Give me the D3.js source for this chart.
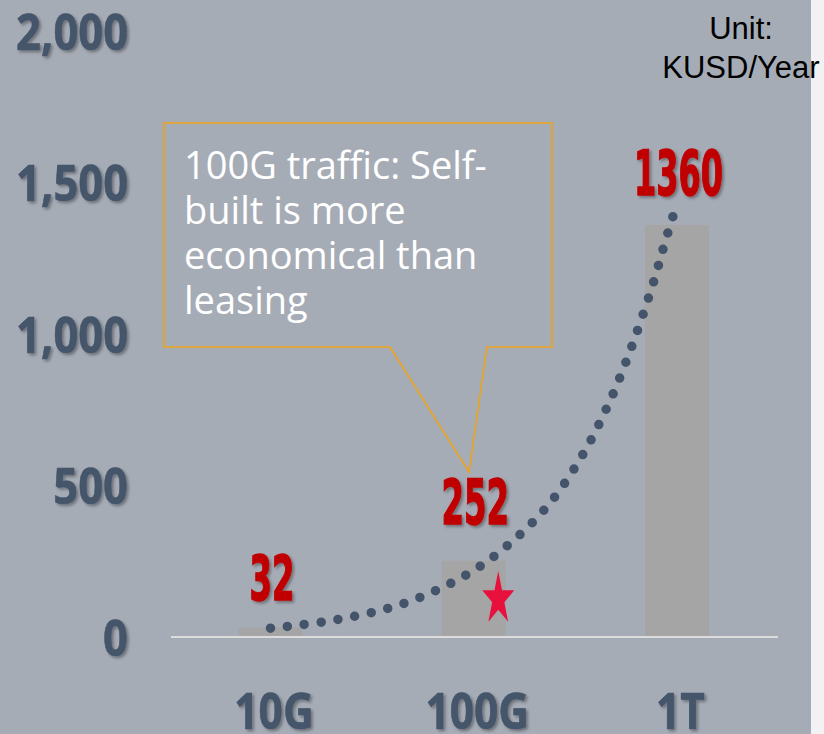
<!DOCTYPE html>
<html><head><meta charset="utf-8">
<script src="https://cdn.jsdelivr.net/npm/d3@7/dist/d3.min.js"></script>
<style>html,body{margin:0;padding:0;background:#a6acb6;overflow:hidden}</style>
</head><body><svg id="c" width="824" height="734"></svg>
<script>
// ---- data ----
const categories = ["10G", "100G", "1T"];
const costValues = [32, 252, 1360];
const yTicks = [0, 500, 1000, 1500, 2000];
// trend curve: position along category axis, value
const trendPos = [0, 0.333, 0.662, 0.968, 1.173, 1.366, 1.533, 1.67, 1.783, 1.883, 1.942, 2.004];
const trendVal = [29, 58, 112, 207, 306, 435, 598, 779, 969, 1168, 1305, 1440];
const unitLines = ["Unit:", "KUSD/Year"];
const calloutLines = ["100G traffic: Self-", "built is more", "economical than", "leasing"];

// ---- setup ----
const W = 824, H = 734;
const svg = d3.select("#c");
const defs = svg.append("defs");
const sh = defs.append("filter").attr("id", "sh").attr("x", "-20%").attr("y", "-20%").attr("width", "150%").attr("height", "150%");
sh.append("feDropShadow").attr("dx", 2).attr("dy", 2).attr("stdDeviation", 1.5)
  .attr("flood-color", "#000").attr("flood-opacity", 0.35);

svg.append("rect").attr("width", W).attr("height", H).attr("fill", "#a6acb6");
svg.append("rect").attr("x", 811).attr("width", W - 811).attr("height", H).attr("fill", "#f2f2f4");

const x = d3.scalePoint().domain(categories).range([270.5, 677]);
const xPos = d3.scaleLinear().domain([0, categories.length - 1]).range([270.5, 677]);
const y = d3.scaleLinear().domain([0, 2000]).range([637, 31]);
const barW = 64;

// bars
svg.append("g").selectAll("rect").data(costValues).join("rect")
  .attr("x", (d, i) => x(categories[i]) - barW / 2)
  .attr("y", d => y(d))
  .attr("width", barW)
  .attr("height", d => y(0) - y(d))
  .attr("fill", "#a5a5a5");

// baseline
svg.append("line").attr("x1", 171).attr("x2", 778).attr("y1", y(0)).attr("y2", y(0))
  .attr("stroke", "#dcdcdc").attr("stroke-width", 2);

// y axis
const yAxis = d3.axisLeft(y).tickValues(yTicks).tickFormat(d3.format(",")).tickSize(0).tickPadding(0);
const gy = svg.append("g").attr("transform", "translate(128,0)").call(yAxis);
gy.select(".domain").remove();
gy.selectAll("text")
  .attr("font-family", "'Open Sans', 'DejaVu Sans', sans-serif")
  .attr("font-weight", "bold").attr("font-size", 50).attr("fill", "#44546a")
  .attr("stroke", "#44546a").attr("stroke-width", 0.6)
  .attr("dy", "0.36em").attr("filter", "url(#sh)")
  .each(function () { const L = this.getComputedTextLength(); d3.select(this).attr("textLength", L * 0.87).attr("lengthAdjust", "spacingAndGlyphs"); });

// x axis
const xAxis = d3.axisBottom(x).tickSize(0).tickPadding(0);
const gx = svg.append("g").attr("transform", "translate(3,0)").call(xAxis);
gx.select(".domain").remove();
gx.selectAll("text")
  .attr("y", 729).attr("dy", 0)
  .attr("font-family", "'Open Sans', 'DejaVu Sans', sans-serif")
  .attr("font-weight", "bold").attr("font-size", 50).attr("fill", "#44546a")
  .attr("stroke", "#44546a").attr("stroke-width", 0.6)
  .attr("filter", "url(#sh)")
  .each(function () { const L = this.getComputedTextLength(); d3.select(this).attr("textLength", L * 0.85).attr("lengthAdjust", "spacingAndGlyphs"); });

// trend dotted curve
const line = d3.line().x((d, i) => xPos(trendPos[i])).y(d => y(d)).curve(d3.curveCatmullRom);
svg.append("path").attr("d", line(trendVal))
  .attr("fill", "none").attr("stroke", "#44546a").attr("stroke-width", 9.5)
  .attr("stroke-linecap", "round").attr("stroke-dasharray", "0 17");

// value labels
const labelLift = [27, 37, 30];
svg.append("g").selectAll("text").data(costValues).join("text")
  .attr("x", (d, i) => x(categories[i]) + 1.5)
  .attr("y", (d, i) => y(d) - labelLift[i])
  .attr("text-anchor", "middle")
  .attr("font-family", "'Liberation Sans Narrow', 'DejaVu Sans Condensed', 'Arial Narrow', sans-serif")
  .attr("font-weight", "bold").attr("font-size", 62).attr("fill", "#c00000")
  .attr("stroke", "#c00000").attr("stroke-width", 1.4)
  .attr("filter", "url(#sh)")
  .attr("textLength", d => String(d).length * 22.5 - (String(d)[0] === "1" ? 1 : 0))
  .attr("lengthAdjust", "spacingAndGlyphs")
  .text(d => d);

// star marker
const starCx = x("100G") + 24.5, starCy = 599, rx = 16.8, ry = 28, ratio = 0.382;
const starPts = d3.range(10).map(k => {
  const a = -Math.PI / 2 + k * Math.PI / 5;
  const r = k % 2 === 0 ? 1 : ratio;
  return [starCx + Math.cos(a) * rx * r, starCy + Math.sin(a) * ry * r];
});
svg.append("path").attr("d", "M" + starPts.join("L") + "Z").attr("fill", "#e8113d");

// callout
const cb = { l: 164, t: 123, r: 552, b: 347 };
const tip = [469, 472];
svg.append("path")
  .attr("d", `M${cb.l},${cb.t}H${cb.r}V${cb.b}H487L${tip[0]},${tip[1]}L390,${cb.b}H${cb.l}Z`)
  .attr("fill", "none").attr("stroke", "#eda21a").attr("stroke-width", 1.6);
svg.append("g").selectAll("text").data(calloutLines).join("text")
  .attr("x", 184).attr("y", (d, i) => 179 + i * 45)
  .attr("font-family", "'Open Sans', 'Noto Sans', sans-serif")
  .attr("font-size", 38).attr("fill", "#ffffff")
  .text(d => d);

// unit
svg.append("g").selectAll("text").data(unitLines).join("text")
  .attr("x", 741).attr("y", (d, i) => 39 + i * 39)
  .attr("text-anchor", "middle")
  .attr("font-family", "'Liberation Sans', Arial, sans-serif")
  .attr("font-size", 31).attr("fill", "#000")
  .text(d => d);
</script></body></html>
